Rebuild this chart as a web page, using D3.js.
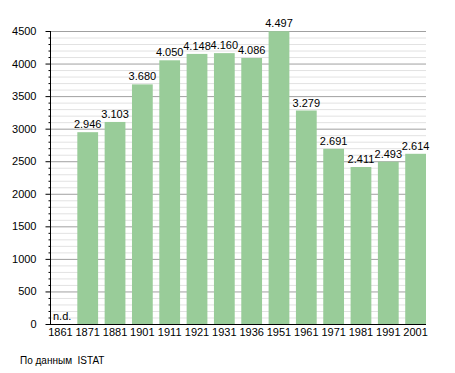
<!DOCTYPE html>
<html>
<head>
<meta charset="utf-8">
<script src="https://cdn.jsdelivr.net/npm/d3@7"></script>
<style>
  body { margin: 0; background: #fff; }
  svg text { font-family: "Liberation Sans", Arial, sans-serif; fill: #000; }
</style>
</head>
<body>
<svg id="chart" width="455" height="373"></svg>
<script>
// censimenti
const years = ["1861", "1871", "1881", "1901", "1911", "1921", "1931", "1936", "1951", "1961", "1971", "1981", "1991", "2001"];
const population = [null, 2946, 3103, 3680, 4050, 4148, 4160, 4086, 4497, 3279, 2691, 2411, 2493, 2614];
const yTicks = [0, 500, 1000, 1500, 2000, 2500, 3000, 3500, 4000, 4500];
const source = "По данным  ISTAT";

const svg = d3.select("#chart");
const mLeft = 50, mRight = 426, mTop = 31, mBottom = 324;

const x = d3.scaleBand().domain(years).range([mLeft, mRight]).paddingInner(0.24).paddingOuter(0);
const y = d3.scaleLinear().domain([0, 4500]).range([mBottom, mTop]);

const fmt = d3.formatLocale({ decimal: ",", thousands: ".", grouping: [3], currency: ["", ""] }).format(",d");

// minor grid every 100
svg.append("g")
    .selectAll("line")
    .data(d3.range(100, 4501, 100).filter(v => v % 500 !== 0))
    .join("line")
    .attr("x1", mLeft).attr("x2", mRight)
    .attr("y1", d => y(d) + 0.5).attr("y2", d => y(d) + 0.5)
    .attr("stroke", "#e2e2e2");

// major grid
svg.append("g")
    .selectAll("line")
    .data(yTicks.slice(1))
    .join("line")
    .attr("x1", mLeft).attr("x2", mRight)
    .attr("y1", d => y(d) + 0.5).attr("y2", d => y(d) + 0.5)
    .attr("stroke", "#a0a0a0");

// bars
const data = years.map((yr, i) => ({ year: yr, value: population[i] }));
svg.append("g")
    .attr("fill", "#99cc99")
    .selectAll("rect")
    .data(data.filter(d => d.value != null))
    .join("rect")
    .attr("x", d => x(d.year))
    .attr("width", x.bandwidth())
    .attr("y", d => y(d.value))
    .attr("height", d => y(0) - y(d.value));

// value labels
svg.append("g")
    .attr("font-size", 11)
    .attr("text-anchor", "middle")
    .selectAll("text")
    .data(data.filter(d => d.value != null))
    .join("text")
    .attr("x", d => x(d.year) + x.bandwidth() / 2)
    .attr("y", d => y(d.value) - 4)
    .text(d => fmt(d.value));

svg.append("text")
    .attr("x", mLeft + 3).attr("y", mBottom - 4)
    .attr("font-size", 11)
    .text("n.d.");

// y axis
const yAxis = svg.append("g").attr("transform", `translate(${mLeft + 0.5},0)`);
yAxis.call(d3.axisLeft(y).tickValues(yTicks).tickSize(5).tickPadding(9).tickFormat(d3.format("d")))
    .call(g => g.select(".domain").remove())
    .call(g => g.selectAll("text").attr("font-size", 11).attr("font-family", "Liberation Sans, Arial, sans-serif"))
    .call(g => g.selectAll(".tick line").attr("stroke", "#000"));
yAxis.append("g")
    .selectAll("line")
    .data(d3.range(100, 4500, 100).filter(v => v % 500 !== 0))
    .join("line")
    .attr("x1", -2).attr("x2", 0)
    .attr("y1", d => y(d) + 0.5).attr("y2", d => y(d) + 0.5)
    .attr("stroke", "#000");
yAxis.append("line")
    .attr("y1", mTop).attr("y2", mBottom + 1)
    .attr("stroke", "#000");

// x axis
svg.append("line")
    .attr("x1", mLeft).attr("x2", mRight)
    .attr("y1", mBottom + 0.5).attr("y2", mBottom + 0.5)
    .attr("stroke", "#000");
svg.append("g")
    .attr("font-size", 11)
    .attr("text-anchor", "middle")
    .selectAll("text")
    .data(years)
    .join("text")
    .attr("x", d => x(d) + x.bandwidth() / 2)
    .attr("y", mBottom + 12)
    .text(d => d);

svg.append("text")
    .attr("x", 20).attr("y", 364)
    .attr("font-size", 10)
    .style("white-space", "pre")
    .text(source);
</script>
</body>
</html>
